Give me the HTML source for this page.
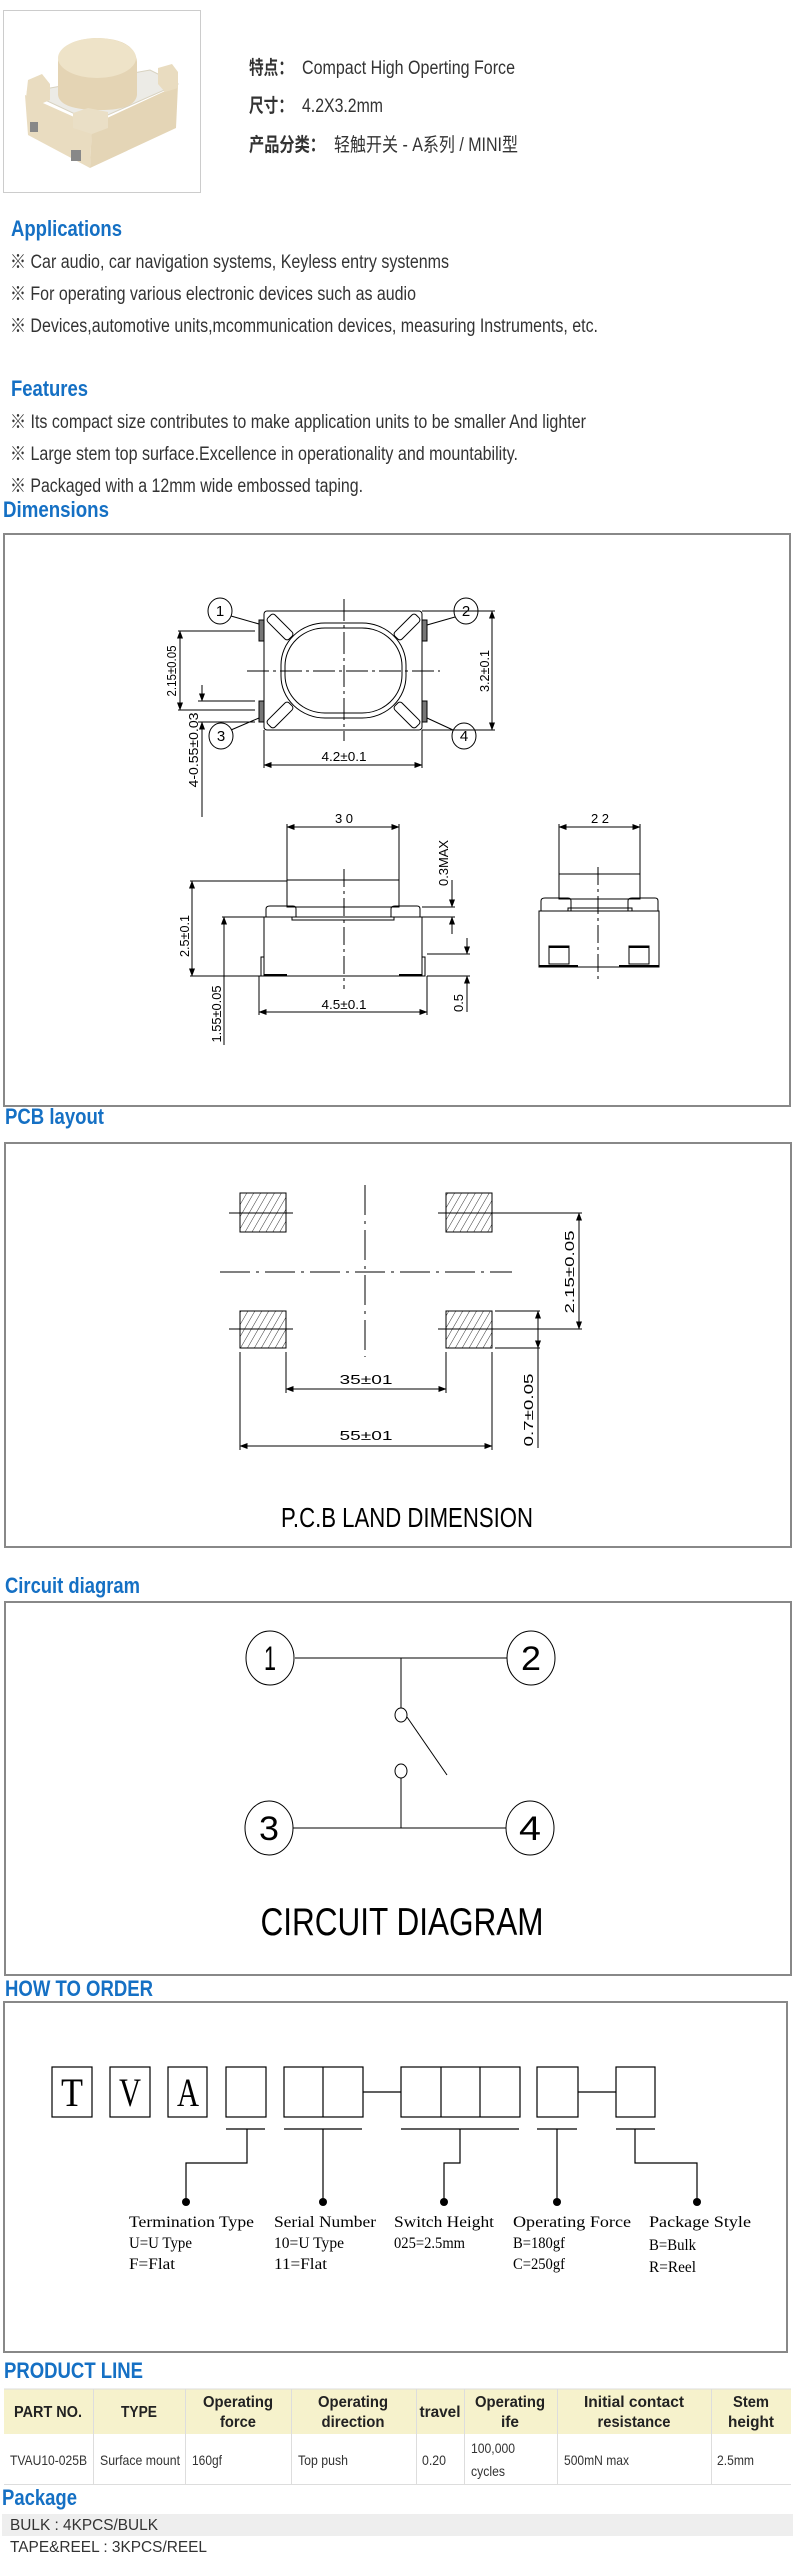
<!DOCTYPE html>
<html><head><meta charset="utf-8"><style>
html,body{margin:0;padding:0;background:#fff;}
svg{display:block;}
.h{font-family:"Liberation Sans",sans-serif;font-weight:bold;fill:#1570c4;font-size:22px;}
.t{font-family:"Liberation Sans","Noto Sans CJK SC",sans-serif;fill:#333;font-size:19px;}
.d{font-family:"Liberation Sans",sans-serif;fill:#000;font-size:13px;}
.o{font-family:"Liberation Serif",serif;fill:#000;font-size:16px;}
.th{font-family:"Liberation Sans",sans-serif;font-weight:bold;fill:#222;font-size:16px;}
.td{font-family:"Liberation Sans",sans-serif;fill:#333;font-size:14px;}
</style></head><body>
<svg width="796" height="2559" viewBox="0 0 796 2559" xmlns="http://www.w3.org/2000/svg">
<defs>
<marker id="a" markerWidth="8" markerHeight="6" refX="7.5" refY="3" orient="auto-start-reverse" markerUnits="userSpaceOnUse"><path d="M0,0L8,3L0,6z" fill="#000"/></marker>
<pattern id="hat" width="6" height="6" patternUnits="userSpaceOnUse" patternTransform="rotate(30)"><line x1="0" y1="0" x2="0" y2="6" stroke="#000" stroke-width="0.8"/></pattern>
</defs>

<!-- product image -->
<rect x="3.5" y="10.5" width="197" height="182" fill="#fff" stroke="#ccc"/>
<g>
<polygon points="28,92 150,70 178,84 92,122" fill="#ecebe6" stroke="#d8d2c0"/>
<polygon points="25,95 92,125 90,168 28,135" fill="#e9dcc0"/>
<polygon points="92,125 178,85 176,128 90,168" fill="#e4d5b6"/>
<path d="M58,62 Q60,40 95,38 Q135,38 137,62 L137,95 Q135,110 100,110 Q60,110 58,95 Z" fill="#e4d4b4"/>
<ellipse cx="97" cy="58" rx="39" ry="20" fill="#eee3c8"/>
<polygon points="28,80 42,74 50,84 50,100 36,106 26,98" fill="#e9dcc0"/>
<polygon points="73,113 88,108 108,112 108,128 92,134 73,128" fill="#eadfc6"/>
<polygon points="158,68 172,64 178,72 178,88 165,92 158,84" fill="#e9dcc0"/>
<rect x="30" y="122" width="8" height="10" fill="#888"/>
<rect x="71" y="150" width="10" height="11" fill="#888"/>
</g>

<text class="t" x="249" y="74" font-weight="bold" textLength="44" lengthAdjust="spacingAndGlyphs">特点：</text>
<text class="t" x="302" y="74" textLength="213" lengthAdjust="spacingAndGlyphs">Compact High Operting Force</text>
<text class="t" x="249" y="112" font-weight="bold" textLength="44" lengthAdjust="spacingAndGlyphs">尺寸：</text>
<text class="t" x="302" y="112" textLength="81" lengthAdjust="spacingAndGlyphs">4.2X3.2mm</text>
<text class="t" x="249" y="151" font-weight="bold" textLength="76" lengthAdjust="spacingAndGlyphs">产品分类：</text>
<text class="t" x="334" y="151" textLength="184" lengthAdjust="spacingAndGlyphs">轻触开关 - A系列 / MINI型</text>

<text class="h" x="11" y="236" textLength="111" lengthAdjust="spacingAndGlyphs">Applications</text>
<text class="t" x="10" y="268" textLength="439" lengthAdjust="spacingAndGlyphs">※ Car audio, car navigation systems, Keyless entry systenms</text>
<text class="t" x="10" y="300" textLength="406" lengthAdjust="spacingAndGlyphs">※ For operating various electronic devices such as audio</text>
<text class="t" x="10" y="332" textLength="588" lengthAdjust="spacingAndGlyphs">※ Devices,automotive units,mcommunication devices, measuring Instruments, etc.</text>
<text class="h" x="11" y="396" textLength="77" lengthAdjust="spacingAndGlyphs">Features</text>
<text class="t" x="10" y="428" textLength="576" lengthAdjust="spacingAndGlyphs">※ Its compact size contributes to make application units to be smaller And lighter</text>
<text class="t" x="10" y="460" textLength="508" lengthAdjust="spacingAndGlyphs">※ Large stem top surface.Excellence in operationality and mountability.</text>
<text class="t" x="10" y="492" textLength="353" lengthAdjust="spacingAndGlyphs">※ Packaged with a 12mm wide embossed taping.</text>
<text class="h" x="3" y="517" textLength="106" lengthAdjust="spacingAndGlyphs">Dimensions</text>

<!-- Dimensions box -->
<rect x="4" y="534" width="786" height="572" fill="none" stroke="#888" stroke-width="2"/>
<g stroke="#000" stroke-width="1" fill="none">
<rect x="264" y="611" width="158" height="119" rx="3"/>
<rect x="281" y="623" width="125" height="95" rx="44" ry="42"/>
<rect x="285" y="628" width="117" height="85" rx="40" ry="38"/>
<rect x="265" y="622" width="30" height="10" rx="3" transform="rotate(45 280 627)"/>
<rect x="392" y="622" width="30" height="10" rx="3" transform="rotate(-45 407 627)"/>
<rect x="265" y="710" width="30" height="10" rx="3" transform="rotate(-45 280 715)"/>
<rect x="392" y="710" width="30" height="10" rx="3" transform="rotate(45 407 715)"/>
<rect x="259" y="620" width="5" height="21" fill="#777"/>
<rect x="259" y="701" width="5" height="21" fill="#777"/>
<rect x="422" y="620" width="5" height="21" fill="#777"/>
<rect x="422" y="701" width="5" height="21" fill="#777"/>
<line x1="344" y1="599" x2="344" y2="741" stroke-dasharray="22 4 3 4"/>
<line x1="247" y1="671" x2="440" y2="671" stroke-dasharray="22 4 3 4"/>
<ellipse cx="220" cy="611" rx="12" ry="13"/>
<ellipse cx="466" cy="611" rx="12" ry="13"/>
<ellipse cx="221" cy="736" rx="12" ry="13"/>
<ellipse cx="464" cy="736" rx="12" ry="13"/>
<line x1="231" y1="616" x2="259" y2="624"/>
<line x1="455" y1="617" x2="427" y2="625"/>
<line x1="231" y1="730" x2="259" y2="718"/>
<line x1="453" y1="730" x2="427" y2="718"/>
<line x1="178" y1="631" x2="255" y2="631"/><line x1="178" y1="710" x2="255" y2="710"/>
<line x1="180" y1="631" x2="180" y2="710" marker-start="url(#a)" marker-end="url(#a)"/>
<line x1="198" y1="701" x2="255" y2="701"/><line x1="198" y1="722" x2="255" y2="722"/>
<line x1="202" y1="685" x2="202" y2="701" marker-end="url(#a)"/>
<line x1="202" y1="722" x2="202" y2="817" marker-start="url(#a)"/>
<line x1="422" y1="611" x2="495" y2="611"/><line x1="422" y1="730" x2="495" y2="730"/>
<line x1="492" y1="611" x2="492" y2="730" marker-start="url(#a)" marker-end="url(#a)"/>
<line x1="264" y1="730" x2="264" y2="768"/><line x1="422" y1="730" x2="422" y2="768"/>
<line x1="264" y1="765" x2="422" y2="765" marker-start="url(#a)" marker-end="url(#a)"/>
<line x1="287" y1="824" x2="287" y2="880"/><line x1="399" y1="824" x2="399" y2="880"/>
<line x1="287" y1="827" x2="399" y2="827" marker-start="url(#a)" marker-end="url(#a)"/>
<rect x="287" y="880" width="112" height="27"/>
<rect x="264" y="917" width="158" height="59"/>
<path d="M266,917 V909 Q266,906 270,906 H293 Q296,906 296,909 V917"/>
<path d="M391,917 V909 Q391,906 395,906 H417 Q420,906 420,909 V917"/>
<rect x="292" y="917" width="102" height="3"/>
<line x1="264" y1="975" x2="287" y2="975" stroke-width="2"/>
<line x1="399" y1="975" x2="422" y2="975" stroke-width="2"/>
<path d="M264,957 H261 V976 H264"/><path d="M422,957 H425 V976 H422"/>
<line x1="190" y1="881" x2="287" y2="881"/><line x1="190" y1="976" x2="264" y2="976"/>
<line x1="192" y1="881" x2="192" y2="976" marker-start="url(#a)" marker-end="url(#a)"/>
<line x1="222" y1="917" x2="264" y2="917"/>
<line x1="224" y1="917" x2="224" y2="1045" marker-start="url(#a)"/>
<line x1="259" y1="976" x2="259" y2="1015"/><line x1="427" y1="976" x2="427" y2="1015"/>
<line x1="259" y1="1012" x2="427" y2="1012" marker-start="url(#a)" marker-end="url(#a)"/>
<line x1="422" y1="907" x2="455" y2="907"/><line x1="422" y1="917" x2="455" y2="917"/>
<line x1="452" y1="880" x2="452" y2="907" marker-end="url(#a)"/>
<line x1="452" y1="917" x2="452" y2="934" marker-start="url(#a)"/>
<line x1="427" y1="954" x2="470" y2="954"/><line x1="427" y1="976" x2="470" y2="976"/>
<line x1="467" y1="938" x2="467" y2="954" marker-end="url(#a)"/>
<line x1="467" y1="976" x2="467" y2="1012" marker-start="url(#a)"/>
<line x1="344" y1="869" x2="344" y2="989" stroke-dasharray="18 4 3 4"/>
<line x1="559" y1="824" x2="559" y2="874"/><line x1="640" y1="824" x2="640" y2="874"/>
<line x1="559" y1="827" x2="640" y2="827" marker-start="url(#a)" marker-end="url(#a)"/>
<rect x="559" y="874" width="81" height="25"/>
<rect x="539" y="911" width="120" height="56"/>
<path d="M541,911 V901 Q541,898 545,898 H568 Q571,898 571,901 V911"/>
<path d="M628,911 V901 Q628,898 632,898 H655 Q658,898 658,901 V911"/>
<rect x="568" y="908" width="64" height="3"/>
<rect x="549" y="946" width="20" height="18"/><line x1="549" y1="947" x2="569" y2="947" stroke-width="2"/>
<rect x="629" y="946" width="20" height="18"/><line x1="629" y1="947" x2="649" y2="947" stroke-width="2"/>
<line x1="539" y1="966" x2="578" y2="966" stroke-width="2"/><line x1="619" y1="966" x2="659" y2="966" stroke-width="2"/>
<line x1="598" y1="867" x2="598" y2="982" stroke-dasharray="18 4 3 4"/>
</g>
<g class="d">
<text x="220" y="616" text-anchor="middle" font-size="15">1</text>
<text x="466" y="616" text-anchor="middle" font-size="15">2</text>
<text x="221" y="741" text-anchor="middle" font-size="15">3</text>
<text x="464" y="741" text-anchor="middle" font-size="15">4</text>
<text transform="translate(176,671) rotate(-90)" text-anchor="middle" textLength="51" lengthAdjust="spacingAndGlyphs">2.15±0.05</text>
<text transform="translate(198,750) rotate(-90)" text-anchor="middle" textLength="75" lengthAdjust="spacingAndGlyphs">4-0.55±0.03</text>
<text transform="translate(489,671) rotate(-90)" text-anchor="middle" textLength="42" lengthAdjust="spacingAndGlyphs">3.2±0.1</text>
<text x="344" y="761" text-anchor="middle" textLength="45" lengthAdjust="spacingAndGlyphs">4.2±0.1</text>
<text x="344" y="823" text-anchor="middle">3 0</text>
<text x="600" y="823" text-anchor="middle">2 2</text>
<text transform="translate(189,936) rotate(-90)" text-anchor="middle" textLength="42" lengthAdjust="spacingAndGlyphs">2.5±0.1</text>
<text transform="translate(221,1014) rotate(-90)" text-anchor="middle" textLength="57" lengthAdjust="spacingAndGlyphs">1.55±0.05</text>
<text x="344" y="1009" text-anchor="middle" textLength="45" lengthAdjust="spacingAndGlyphs">4.5±0.1</text>
<text transform="translate(448,863) rotate(-90)" text-anchor="middle" textLength="46" lengthAdjust="spacingAndGlyphs">0.3MAX</text>
<text transform="translate(463,1003) rotate(-90)" text-anchor="middle">0.5</text>
</g>

<text class="h" x="5" y="1124" textLength="99" lengthAdjust="spacingAndGlyphs">PCB layout</text>
<rect x="5" y="1143" width="786" height="404" fill="none" stroke="#888" stroke-width="2"/>
<g stroke="#000" stroke-width="1">
<rect x="240" y="1193" width="46" height="39" fill="url(#hat)"/>
<rect x="446" y="1193" width="46" height="39" fill="url(#hat)"/>
<rect x="240" y="1311" width="46" height="37" fill="url(#hat)"/>
<rect x="446" y="1311" width="46" height="37" fill="url(#hat)"/>
<g fill="none">
<line x1="365" y1="1185" x2="365" y2="1357" stroke-dasharray="30 6 3 6"/>
<line x1="220" y1="1272" x2="512" y2="1272" stroke-dasharray="30 6 3 6"/>
<line x1="229" y1="1213" x2="293" y2="1213"/><line x1="438" y1="1213" x2="582" y2="1213"/>
<line x1="229" y1="1329" x2="293" y2="1329"/><line x1="438" y1="1329" x2="582" y2="1329"/>
<line x1="579" y1="1213" x2="579" y2="1329" marker-start="url(#a)" marker-end="url(#a)"/>
<line x1="495" y1="1311" x2="540" y2="1311"/><line x1="495" y1="1348" x2="540" y2="1348"/>
<line x1="538" y1="1311" x2="538" y2="1448"/>
<line x1="538" y1="1311" x2="538" y2="1329" marker-start="url(#a)"/>
<line x1="538" y1="1330" x2="538" y2="1348" marker-end="url(#a)"/>
<line x1="286" y1="1352" x2="286" y2="1393"/><line x1="446" y1="1352" x2="446" y2="1393"/>
<line x1="286" y1="1389" x2="446" y2="1389" marker-start="url(#a)" marker-end="url(#a)"/>
<line x1="240" y1="1352" x2="240" y2="1450"/><line x1="492" y1="1352" x2="492" y2="1450"/>
<line x1="240" y1="1446" x2="492" y2="1446" marker-start="url(#a)" marker-end="url(#a)"/>
</g></g>
<g class="d" font-size="17">
<text transform="translate(574,1272) rotate(-90)" text-anchor="middle" textLength="83" lengthAdjust="spacingAndGlyphs">2.15±0.05</text>
<text transform="translate(533,1410) rotate(-90)" text-anchor="middle" textLength="73" lengthAdjust="spacingAndGlyphs">0.7±0.05</text>
<text x="366" y="1384" text-anchor="middle" textLength="53" lengthAdjust="spacingAndGlyphs">35±01</text>
<text x="366" y="1440" text-anchor="middle" textLength="53" lengthAdjust="spacingAndGlyphs">55±01</text>
</g>
<text x="407" y="1527" text-anchor="middle" font-family="Liberation Sans,sans-serif" font-size="28" textLength="252" lengthAdjust="spacingAndGlyphs">P.C.B LAND DIMENSION</text>

<text class="h" x="5" y="1593" textLength="135" lengthAdjust="spacingAndGlyphs">Circuit diagram</text>
<rect x="5" y="1602" width="786" height="373" fill="none" stroke="#888" stroke-width="2"/>
<g stroke="#000" stroke-width="1" fill="none">
<ellipse cx="270" cy="1658" rx="24" ry="27"/>
<ellipse cx="531" cy="1658" rx="24" ry="27"/>
<ellipse cx="269" cy="1828" rx="24" ry="27"/>
<ellipse cx="530" cy="1828" rx="24" ry="27"/>
<line x1="295" y1="1658" x2="507" y2="1658"/>
<line x1="401" y1="1658" x2="401" y2="1708"/>
<ellipse cx="401" cy="1715" rx="6" ry="7"/>
<line x1="407" y1="1717" x2="447" y2="1775"/>
<ellipse cx="401" cy="1771" rx="6" ry="7"/>
<line x1="401" y1="1778" x2="401" y2="1828"/>
<line x1="293" y1="1828" x2="506" y2="1828"/>
</g>
<g font-family="Liberation Sans,sans-serif" font-size="34" font-weight="200" text-anchor="middle">
<text x="270" y="1670" textLength="12" lengthAdjust="spacingAndGlyphs">1</text>
<text x="531" y="1670" textLength="20" lengthAdjust="spacingAndGlyphs">2</text>
<text x="269" y="1840" textLength="20" lengthAdjust="spacingAndGlyphs">3</text>
<text x="530" y="1840" textLength="22" lengthAdjust="spacingAndGlyphs">4</text>
</g>
<text x="402" y="1935" text-anchor="middle" font-family="Liberation Sans,sans-serif" font-size="39" textLength="283" lengthAdjust="spacingAndGlyphs">CIRCUIT DIAGRAM</text>

<text class="h" x="5" y="1996" textLength="148" lengthAdjust="spacingAndGlyphs">HOW TO ORDER</text>
<rect x="4" y="2002" width="783" height="350" fill="none" stroke="#888" stroke-width="2"/>
<g stroke="#000" stroke-width="1.2" fill="none">
<rect x="52" y="2067" width="40" height="50"/>
<rect x="110" y="2067" width="40" height="50"/>
<rect x="168" y="2067" width="39" height="50"/>
<rect x="226" y="2067" width="40" height="50"/>
<rect x="284" y="2067" width="79" height="50"/><line x1="323" y1="2067" x2="323" y2="2117"/>
<rect x="401" y="2067" width="119" height="50"/><line x1="441" y1="2067" x2="441" y2="2117"/><line x1="480" y1="2067" x2="480" y2="2117"/>
<rect x="537" y="2067" width="41" height="50"/>
<rect x="616" y="2067" width="39" height="50"/>
<line x1="363" y1="2092" x2="401" y2="2092"/>
<line x1="578" y1="2092" x2="616" y2="2092"/>
<line x1="226" y1="2129" x2="265" y2="2129"/>
<line x1="284" y1="2129" x2="362" y2="2129"/>
<line x1="401" y1="2129" x2="519" y2="2129"/>
<line x1="537" y1="2129" x2="577" y2="2129"/>
<line x1="616" y1="2129" x2="655" y2="2129"/>
<polyline points="247,2129 247,2163 186,2163 186,2202"/>
<line x1="323" y1="2129" x2="323" y2="2202"/>
<polyline points="460,2129 460,2163 444,2163 444,2202"/>
<line x1="557" y1="2129" x2="557" y2="2202"/>
<polyline points="635,2129 635,2163 697,2163 697,2202"/>
</g>
<g fill="#000"><circle cx="186" cy="2202" r="4"/><circle cx="323" cy="2202" r="4"/><circle cx="444" cy="2202" r="4"/><circle cx="557" cy="2202" r="4"/><circle cx="697" cy="2202" r="4"/></g>
<g font-family="Liberation Serif,serif" font-size="40" text-anchor="middle">
<text x="72" y="2106" textLength="22" lengthAdjust="spacingAndGlyphs">T</text>
<text x="130" y="2106" textLength="22" lengthAdjust="spacingAndGlyphs">V</text>
<text x="188" y="2106" textLength="22" lengthAdjust="spacingAndGlyphs">A</text>
</g>
<g class="o">
<text x="129" y="2227" textLength="125" lengthAdjust="spacingAndGlyphs">Termination Type</text>
<text x="129" y="2248" textLength="63" lengthAdjust="spacingAndGlyphs">U=U Type</text>
<text x="129" y="2269" textLength="46" lengthAdjust="spacingAndGlyphs">F=Flat</text>
<text x="274" y="2227" textLength="102" lengthAdjust="spacingAndGlyphs">Serial Number</text>
<text x="274" y="2248" textLength="70" lengthAdjust="spacingAndGlyphs">10=U Type</text>
<text x="274" y="2269" textLength="53" lengthAdjust="spacingAndGlyphs">11=Flat</text>
<text x="394" y="2227" textLength="100" lengthAdjust="spacingAndGlyphs">Switch Height</text>
<text x="394" y="2248" textLength="71" lengthAdjust="spacingAndGlyphs">025=2.5mm</text>
<text x="513" y="2227" textLength="118" lengthAdjust="spacingAndGlyphs">Operating Force</text>
<text x="513" y="2248" textLength="52" lengthAdjust="spacingAndGlyphs">B=180gf</text>
<text x="513" y="2269" textLength="52" lengthAdjust="spacingAndGlyphs">C=250gf</text>
<text x="649" y="2227" textLength="102" lengthAdjust="spacingAndGlyphs">Package Style</text>
<text x="649" y="2250" textLength="47" lengthAdjust="spacingAndGlyphs">B=Bulk</text>
<text x="649" y="2272" textLength="47" lengthAdjust="spacingAndGlyphs">R=Reel</text>
</g>

<text class="h" x="4" y="2378" textLength="139" lengthAdjust="spacingAndGlyphs">PRODUCT LINE</text>
<rect x="4" y="2389" width="787" height="45" fill="#f6f2cc"/>
<g stroke="#ddd" stroke-width="1">
<line x1="4" y1="2389" x2="791" y2="2389"/>
<line x1="4" y1="2484.5" x2="791" y2="2484.5"/>
<line x1="93.5" y1="2389" x2="93.5" y2="2484"/><line x1="185.5" y1="2389" x2="185.5" y2="2484"/>
<line x1="291.5" y1="2389" x2="291.5" y2="2484"/><line x1="416.5" y1="2389" x2="416.5" y2="2484"/>
<line x1="464.5" y1="2389" x2="464.5" y2="2484"/><line x1="557.5" y1="2389" x2="557.5" y2="2484"/>
<line x1="711.5" y1="2389" x2="711.5" y2="2484"/>
</g>
<g class="th" text-anchor="middle">
<text x="48" y="2417" textLength="68" lengthAdjust="spacingAndGlyphs">PART NO.</text>
<text x="139" y="2417" textLength="36" lengthAdjust="spacingAndGlyphs">TYPE</text>
<text x="238" y="2407" textLength="70" lengthAdjust="spacingAndGlyphs">Operating</text>
<text x="238" y="2427" textLength="36" lengthAdjust="spacingAndGlyphs">force</text>
<text x="353" y="2407" textLength="70" lengthAdjust="spacingAndGlyphs">Operating</text>
<text x="353" y="2427" textLength="63" lengthAdjust="spacingAndGlyphs">direction</text>
<text x="440" y="2417" textLength="41" lengthAdjust="spacingAndGlyphs">travel</text>
<text x="510" y="2407" textLength="70" lengthAdjust="spacingAndGlyphs">Operating</text>
<text x="510" y="2427" textLength="18" lengthAdjust="spacingAndGlyphs">ife</text>
<text x="634" y="2407" textLength="100" lengthAdjust="spacingAndGlyphs">Initial contact</text>
<text x="634" y="2427" textLength="73" lengthAdjust="spacingAndGlyphs">resistance</text>
<text x="751" y="2407" textLength="36" lengthAdjust="spacingAndGlyphs">Stem</text>
<text x="751" y="2427" textLength="46" lengthAdjust="spacingAndGlyphs">height</text>
</g>
<g class="td">
<text x="10" y="2465" textLength="77" lengthAdjust="spacingAndGlyphs">TVAU10-025B</text>
<text x="100" y="2465" textLength="80" lengthAdjust="spacingAndGlyphs">Surface mount</text>
<text x="192" y="2465" textLength="30" lengthAdjust="spacingAndGlyphs">160gf</text>
<text x="298" y="2465" textLength="50" lengthAdjust="spacingAndGlyphs">Top push</text>
<text x="422" y="2465" textLength="24" lengthAdjust="spacingAndGlyphs">0.20</text>
<text x="471" y="2453" textLength="44" lengthAdjust="spacingAndGlyphs">100,000</text>
<text x="471" y="2476" textLength="34" lengthAdjust="spacingAndGlyphs">cycles</text>
<text x="564" y="2465" textLength="65" lengthAdjust="spacingAndGlyphs">500mN max</text>
<text x="717" y="2465" textLength="37" lengthAdjust="spacingAndGlyphs">2.5mm</text>
</g>

<text class="h" x="2" y="2505" textLength="75" lengthAdjust="spacingAndGlyphs">Package</text>
<rect x="2" y="2514" width="791" height="22" fill="#eeeeee"/>
<text x="10" y="2530" font-family="Liberation Sans,sans-serif" font-size="16" fill="#333" textLength="148" lengthAdjust="spacingAndGlyphs">BULK : 4KPCS/BULK</text>
<text x="10" y="2552" font-family="Liberation Sans,sans-serif" font-size="16" fill="#333" textLength="197" lengthAdjust="spacingAndGlyphs">TAPE&amp;REEL : 3KPCS/REEL</text>
</svg>
</body></html>
